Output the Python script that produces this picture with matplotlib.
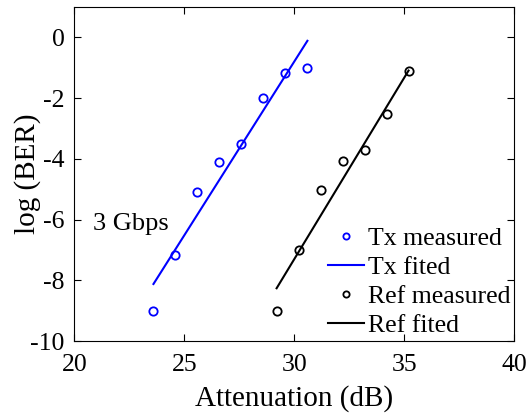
import matplotlib
matplotlib.use("Agg")
import matplotlib.pyplot as plt

plt.rcParams["font.family"] = ["Liberation Serif", "DejaVu Serif"]
plt.rcParams["axes.unicode_minus"] = False

# Measured points
tx_att = [23.6, 24.6, 25.6, 26.6, 27.6, 28.6, 29.6, 30.6]
tx_ber = [-9.0, -7.15, -5.08, -4.09, -3.5, -1.98, -1.17, -1.02]
ref_att = [29.2, 30.2, 31.2, 32.2, 33.2, 34.2, 35.2]
ref_ber = [-9.0, -7.0, -5.01, -4.06, -3.71, -2.53, -1.09]

# Fitted line end points
tx_fit_att = [23.6, 30.6]
tx_fit_ber = [-8.12, -0.11]
ref_fit_att = [29.2, 35.2]
ref_fit_ber = [-8.26, -1.09]

fig = plt.figure(figsize=(5.28, 4.18), dpi=100)
ax = fig.add_axes([0.1407, 0.184, 0.833, 0.799])

ax.plot(tx_att, tx_ber, "o", mfc="none", mec="#0000ff", mew=1.3, ms=6,
        label="Tx measured")
ax.plot(tx_fit_att, tx_fit_ber, "-", color="#0000ff", lw=1.5, label="Tx fited")
ax.plot(ref_att, ref_ber, "o", mfc="none", mec="black", mew=1.3, ms=6,
        label="Ref measured")
ax.plot(ref_fit_att, ref_fit_ber, "-", color="black", lw=1.5, label="Ref fited")

ax.text(20.85, -6.15, "3 Gbps", fontsize=19, va="center", ha="left")

ax.set_xlim(20, 40)
ax.set_ylim(-10, 1)
ax.set_xticks([20, 25, 30, 35, 40])
ax.set_yticks([-10, -8, -6, -4, -2, 0])
ax.tick_params(direction="in", top=True, right=True, labelsize=18.5,
               length=5, width=0.8)
ax.tick_params(axis="x", pad=9)
ax.tick_params(axis="y", pad=7)
for s in ax.spines.values():
    s.set_linewidth(0.8)
ax.set_xlabel("Attenuation (dB)", fontsize=21, labelpad=7)
ax.set_ylabel("log (BER)", fontsize=21)
ax.yaxis.set_label_coords(-0.075, 0.5)

ax.legend(loc="lower right", frameon=False, fontsize=18.5, markerscale=0.75,
          handlelength=1.4, handletextpad=0.15, labelspacing=0.24,
          borderaxespad=0.1, borderpad=0.05)

fig.savefig("out.png", dpi=100)
